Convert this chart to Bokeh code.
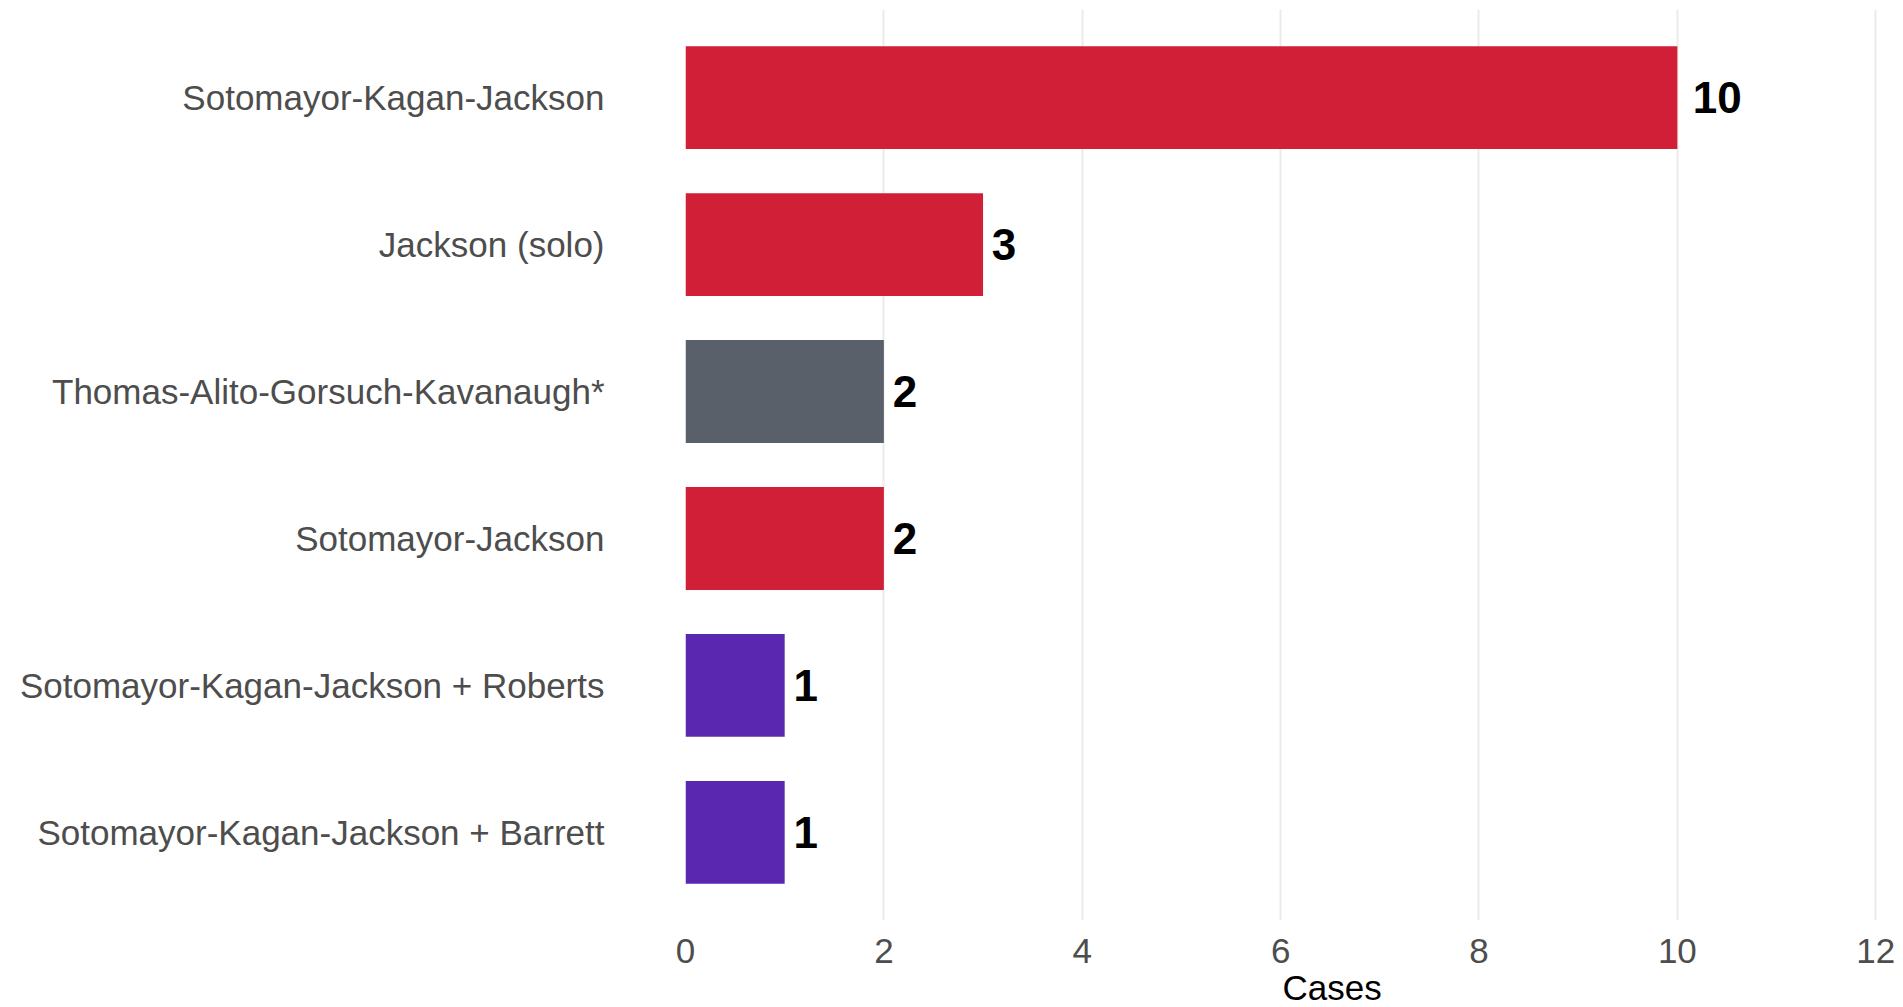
from bokeh.plotting import figure
from bokeh.models import Range1d, FixedTicker, ColumnDataSource, Title
from bokeh.core.properties import value
from bokeh.embed import file_html
from bokeh.resources import INLINE

# ---- data ----
categories = [
    "Sotomayor-Kagan-Jackson",
    "Jackson (solo)",
    "Thomas-Alito-Gorsuch-Kavanaugh*",
    "Sotomayor-Jackson",
    "Sotomayor-Kagan-Jackson + Roberts",
    "Sotomayor-Kagan-Jackson + Barrett",
]
cases = [10, 3, 2, 2, 1, 1]
groups = ["liberal", "liberal", "conservative", "liberal", "cross", "cross"]
x_ticks = [0, 2, 4, 6, 8, 10, 12]
x_title = "Cases"

palette = {"liberal": "#D01F37", "conservative": "#5A606A", "cross": "#5A28B0"}

FONT = "Liberation Sans"
ypos = list(range(len(categories)))
label_text = [str(v) for v in cases]
label_offset = [0.2 + 0.27 * len(t) * 0.556 * 44 + 2 for t in label_text]

src = ColumnDataSource(dict(
    y=ypos, cases=cases, color=[palette[g] for g in groups],
    label=label_text, xoff=label_offset,
))

p = figure(
    width=1903, height=1006,
    x_range=Range1d(0, 12.28),
    y_range=Range1d(len(categories) - 1 + 0.6, -0.6),
    output_backend="svg", toolbar_location=None,
    min_border_left=685, min_border_right=0, min_border_top=9, min_border_bottom=80,
)
p.outline_line_color = None
p.background_fill_color = "white"
p.border_fill_color = "white"

p.hbar(y="y", left=0, right="cases", height=0.7, color="color", line_color=None, source=src)
p.text(x="cases", y="y", text="label", x_offset="xoff", source=src,
       text_font=value(FONT), text_font_style="bold", text_font_size="44px",
       text_color="black", text_align="left", text_baseline="middle")

# x axis
p.xaxis.ticker = FixedTicker(ticks=x_ticks)
p.xaxis.axis_line_color = None
p.xaxis.major_tick_line_color = None
p.xaxis.minor_tick_line_color = None
p.xaxis.major_label_text_font = FONT
p.xaxis.major_label_text_font_size = "35px"
p.xaxis.major_label_text_color = "#4D4D4D"
p.xaxis.major_label_standoff = 12

# y axis
p.yaxis.ticker = FixedTicker(ticks=ypos)
p.yaxis.major_label_overrides = {i: c for i, c in enumerate(categories)}
p.yaxis.axis_line_color = None
p.yaxis.major_tick_line_color = None
p.yaxis.minor_tick_line_color = None
p.yaxis.major_label_text_font = FONT
p.yaxis.major_label_text_font_size = "35px"
p.yaxis.major_label_text_color = "#4D4D4D"
p.yaxis.major_label_standoff = 75

p.xgrid.grid_line_color = "#EBEBEB"
p.xgrid.grid_line_width = 2
p.ygrid.grid_line_color = None

title = Title(text=x_title, align="left", offset=597, standoff=0,
              vertical_align="bottom", text_baseline="alphabetic",
              text_font=FONT, text_font_size="35px", text_color="black",
              text_font_style="normal")
p.add_layout(title, "below")

open("out.html", "w").write(file_html(p, INLINE))
